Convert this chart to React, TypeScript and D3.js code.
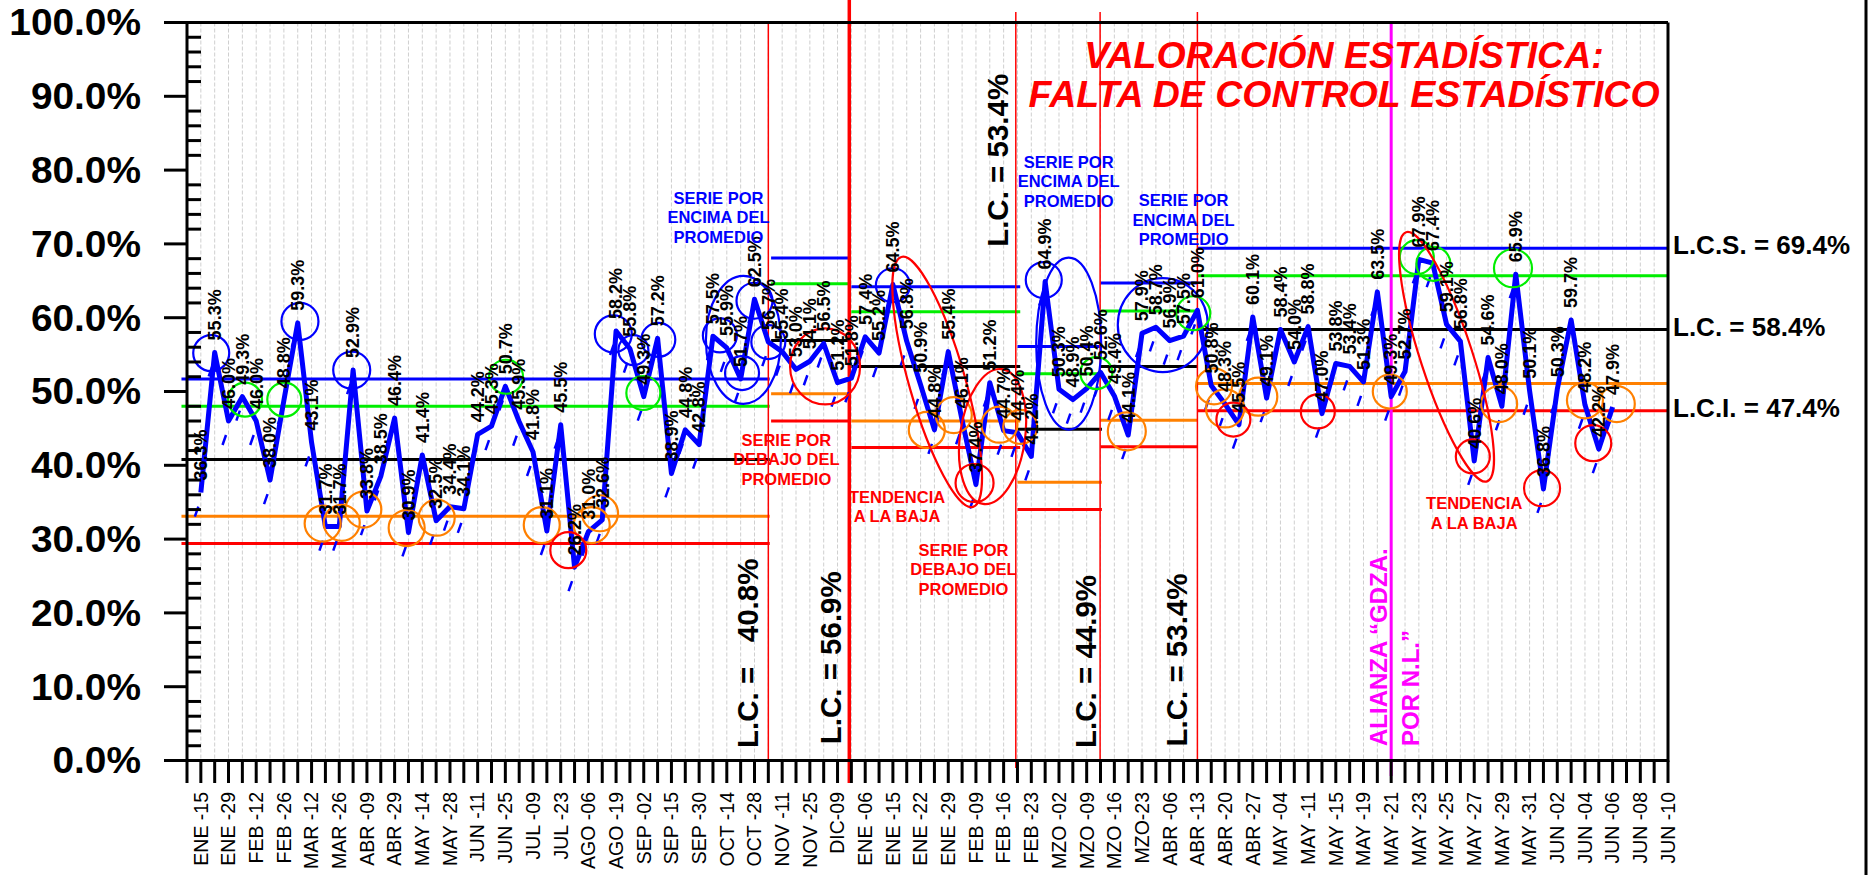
import React from "react";
import * as d3 from "d3";

const FONT = "'Liberation Sans', Arial, Helvetica, sans-serif";

const tickLabels = [
  "ENE -15", "ENE -29", "FEB -12", "FEB -26", "MAR -12", "MAR -26", "ABR -09", "ABR -29",
  "MAY -14", "MAY -28", "JUN -11", "JUN -25", "JUL -09", "JUL -23", "AGO -06", "AGO -19",
  "SEP -02", "SEP -15", "SEP -30", "OCT -14", "OCT -28", "NOV -11", "NOV -25", "DIC-09",
  "ENE -06", "ENE -15", "ENE -22", "ENE -29", "FEB -09", "FEB -16", "FEB -23", "MZO -02",
  "MZO -09", "MZO -16", "MZO-23", "ABR -06", "ABR -13", "ABR -20", "ABR -27", "MAY -04",
  "MAY -11", "MAY -15", "MAY -19", "MAY -21", "MAY -23", "MAY -25", "MAY -27", "MAY -29",
  "MAY -31", "JUN -02", "JUN -04", "JUN -06", "JUN -08", "JUN -10",
];

const values = [
  36.3, 55.3, 46.0, 49.3, 46.0, 38.0, 48.8, 59.3, 43.1, 31.7,
  31.7, 52.9, 33.8, 38.5, 46.4, 30.9, 41.4, 32.5, 34.4, 34.1,
  44.2, 45.3, 50.7, 45.9, 41.8, 31.1, 45.5, 26.2, 31.0, 32.6,
  58.2, 55.8, 49.3, 57.2, 38.9, 44.8, 42.8, 57.5, 55.9, 51.7,
  62.5, 56.7, 55.4, 53.0, 54.1, 56.5, 51.2, 51.8, 57.4, 55.2,
  64.5, 56.8, 50.9, 44.8, 55.4, 46.1, 37.4, 51.2, 44.7, 44.4,
  41.2, 64.9, 50.3, 48.9, 50.4, 52.6, 49.4, 44.1, 57.9, 58.7,
  56.9, 57.5, 61.0, 50.8, 48.3, 45.5, 60.1, 49.1, 58.4, 54.0,
  58.8, 47.0, 53.8, 53.4, 51.3, 63.5, 49.3, 52.7, 67.9, 67.4,
  59.1, 56.8, 40.6, 54.6, 48.0, 65.9, 50.1, 36.8, 50.3, 59.7,
  48.2, 42.2, 47.9,
];

// control-limit segments (category index ranges)
const segStart = [-1.4, 41.2, 47.0, 59.0, 65.0, 72.0];
const segEnd = [41.1, 46.8, 59.2, 65.1, 72.0, 106];
const lcsVals = [51.7, 68.1, 64.2, 56.1, 64.7, 69.4];
const upperVals = [48.0, 64.6, 60.8, 52.4, 60.9, 65.7];
const lcVals = [40.8, 56.9, 53.4, 44.9, 53.4, 58.4];
const lowerVals = [33.1, 49.7, 46.0, 37.7, 46.1, 51.1];
const lciVals = [29.4, 46.0, 42.4, 34.0, 42.5, 47.4];

const redDividers = [41, 46.85, 58.88, 64.97, 72.0];
const redDividerThick = [false, true, false, false, false];
const allianceIdx = 86;

// annotation rings: [index, value, rx, ry, rotation]
const blueRings = [
  [0.75, 55.2, 18, 18, 0], [7.16, 59.5, 18.5, 18.5, 0], [10.9, 52.9, 18.5, 18.5, 0],
  [29.8, 57.8, 18.5, 18.5, 0], [31.25, 55.6, 15, 15, 0], [33.05, 57.0, 17, 17, 0],
  [39.2, 57.0, 37.5, 64, 0], [37.5, 57.6, 17, 17, 0], [39.1, 52.5, 17, 17, 0],
  [40.0, 62.3, 18, 18, 0], [41.0, 56.7, 17, 17, 0], [50.0, 64.4, 17, 17, 0],
  [60.9, 65.1, 18, 18, 0], [62.7, 56.5, 32.5, 86, 0], [69.5, 59.0, 45, 47, 0],
];
const greenRings = [
  [3.19, 48.9, 17, 17, 0], [6.03, 48.9, 17, 17, 0], [22.05, 52.0, 17, 17, 0],
  [31.97, 49.8, 17, 17, 0], [64.7, 52.5, 16, 16, 0], [71.7, 60.6, 17, 17, 0],
  [87.85, 68.2, 17, 17, 0], [89.05, 67.3, 17, 17, 0], [94.8, 66.7, 19, 19, 0],
];
const orangeRings = [
  [8.8, 32.1, 18, 18, 0], [10.18, 32.2, 18, 18, 0], [11.74, 34.0, 18, 18, 0],
  [14.87, 31.5, 18, 18, 0], [17.04, 32.9, 18, 18, 0], [24.63, 31.9, 18, 18, 0],
  [28.24, 31.9, 18, 18, 0], [28.84, 33.5, 18, 18, 0], [52.45, 44.8, 18, 18, 0],
  [54.4, 46.8, 18, 18, 0], [57.7, 45.5, 18, 18, 0], [59.2, 45.2, 17, 17, 0],
  [66.9, 44.6, 19, 19, 0], [73.2, 50.7, 18, 18, 0], [74.0, 47.7, 19, 19, 0],
  [76.4, 49.3, 19, 19, 0], [85.9, 50.0, 17, 17, 0], [93.8, 48.3, 18, 18, 0],
  [100.0, 48.8, 18, 18, 0], [102.3, 48.3, 18, 18, 0],
];
const redRings = [
  [26.55, 28.5, 18, 18, 0], [45.1, 53.4, 35, 38, 0], [53.2, 51.3, 130, 28, 74],
  [55.9, 37.6, 19, 19, 0], [57.2, 43.9, 32.5, 68, 8], [74.6, 46.2, 17, 17, 0],
  [80.7, 47.3, 17, 17, 0], [90.0, 54.7, 131, 26, 72], [91.9, 41.2, 17, 17, 0],
  [96.9, 36.9, 18, 18, 0], [100.6, 43.0, 18, 18, 0],
];

// text annotations: [index, value of first line, color, lines]
const notes: [number, number, string, string[]][] = [
  [37.4, 76.2, "#0000FF", ["SERIE POR", "ENCIMA DEL", "PROMEDIO"]],
  [42.3, 43.4, "#FF0000", ["SERIE POR", "DEBAJO DEL", "PROMEDIO"]],
  [50.3, 35.7, "#FF0000", ["TENDENCIA", "A LA BAJA"]],
  [55.1, 28.5, "#FF0000", ["SERIE POR", "DEBAJO DEL", "PROMEDIO"]],
  [62.7, 81.1, "#0000FF", ["SERIE POR", "ENCIMA DEL", "PROMEDIO"]],
  [71.0, 75.9, "#0000FF", ["SERIE POR", "ENCIMA DEL", "PROMEDIO"]],
  [92.0, 34.8, "#FF0000", ["TENDENCIA", "A LA BAJA"]],
];

// vertical L.C. labels: [index, value at text start, text]
const lcNotes: [number, number, string][] = [
  [39.5, 1.7, "L.C. =   40.8%"],
  [45.5, 2.2, "L.C. = 56.9%"],
  [57.55, 69.6, "L.C. = 53.4%"],
  [63.96, 1.7, "L.C. = 44.9%"],
  [70.5, 1.9, "L.C. = 53.4%"],
];

const rightLabels: [number, string][] = [
  [69.4, "L.C.S. = 69.4%"],
  [58.4, "L.C. = 58.4%"],
  [47.4, "L.C.I. = 47.4%"],
];

export default function App() {
  const x = d3.scaleLinear().domain([-1, 106]).range([187, 1668]);
  const y = d3.scaleLinear().domain([0, 100]).range([760.5, 22.5]);
  const line = d3
    .line<number>()
    .x((_, i) => x(i))
    .y((d) => y(d));
  const gridIdx = d3.range(0, 106);
  const xTickIdx = d3.range(-1, 107);
  const yMajor = d3.range(0, 101, 10);
  const yMinor = d3.range(2, 100, 2).filter((v) => v % 10 !== 0);
  const left = x(-1);
  const right = x(106);
  const top = y(100);
  const bottom = y(0);

  const rings = (list: number[][], color: string, key: string) =>
    list.map((r, k) => (
      <ellipse
        key={key + k}
        cx={0}
        cy={0}
        rx={r[2]}
        ry={r[3]}
        transform={`translate(${x(r[0])},${y(r[1])}) rotate(${r[4]})`}
        fill="none"
        stroke={color}
        strokeWidth={2.2}
      />
    ));

  const segLine = (vals: number[], color: string, key: string) =>
    vals.map((v, k) => (
      <line
        key={key + k}
        x1={x(segStart[k])}
        x2={x(segEnd[k])}
        y1={y(v)}
        y2={y(v)}
        stroke={color}
        strokeWidth={3}
      />
    ));

  return (
    <svg
      width={1871}
      height={875}
      style={{ position: "absolute", left: 0, top: 0, display: "block", background: "#fff" }}
      fontFamily={FONT}
    >
      <rect x={0} y={0} width={1871} height={875} fill="#fff" />
      {/* grid */}
      {gridIdx.map((i) => (
        <line
          key={"g" + i}
          x1={x(i)}
          x2={x(i)}
          y1={top}
          y2={bottom}
          stroke="#cfcfcf"
          strokeWidth={1}
          strokeDasharray="4 2"
        />
      ))}
      {/* control limits */}
      {segLine(lcsVals, "#0000FF", "lcs")}
      {segLine(upperVals, "#00EE00", "up")}
      {segLine(lcVals, "#000000", "lc")}
      {segLine(lowerVals, "#FF8000", "lo")}
      {segLine(lciVals, "#FF0000", "lci")}
      {/* dividers */}
      {redDividers.map((d, k) => (
        <line
          key={"rd" + k}
          x1={x(d)}
          x2={x(d)}
          y1={redDividerThick[k] ? 0 : k === 0 ? top : 12}
          y2={redDividerThick[k] ? 783 : k === 0 ? bottom : 768}
          stroke="#FF0000"
          strokeWidth={redDividerThick[k] ? 3.5 : 1.5}
        />
      ))}
      <line x1={x(allianceIdx)} x2={x(allianceIdx)} y1={top} y2={776} stroke="#FF00FF" strokeWidth={3} />
      {/* shadow dashes */}
      {values.map((v, i) => (
        <line
          key={"sd" + i}
          x1={x(i) - 6}
          y1={y(v) + 24}
          x2={x(i) - 2.5}
          y2={y(v) + 14}
          stroke="#0000FF"
          strokeWidth={2.5}
        />
      ))}
      {/* data line */}
      <path d={line(values) || ""} fill="none" stroke="#0000FF" strokeWidth={5} strokeLinejoin="round" />
      {/* rings */}
      {rings(blueRings, "#0000FF", "b")}
      {rings(greenRings, "#00EE00", "gr")}
      {rings(orangeRings, "#FF8000", "o")}
      {rings(redRings, "#FF0000", "r")}
      {/* data labels */}
      {values.map((v, i) => (
        <text
          key={"dl" + i}
          transform={`translate(${x(i)},${y(v) - 12}) rotate(-90)`}
          dy="0.35em"
          fontSize={18}
          fontWeight="bold"
          fill="#000"
        >
          {v.toFixed(1) + "%"}
        </text>
      ))}
      {/* notes */}
      {notes.map((n, k) =>
        n[3].map((t, j) => (
          <text
            key={"n" + k + "_" + j}
            x={x(n[0])}
            y={y(n[1]) + j * 19.5}
            dy="0.35em"
            textAnchor="middle"
            fontSize={16.5}
            fontWeight="bold"
            fill={n[2]}
          >
            {t}
          </text>
        ))
      )}
      {lcNotes.map((n, k) => (
        <text
          key={"lc" + k}
          transform={`translate(${x(n[0])},${y(n[1])}) rotate(-90)`}
          dy="0.35em"
          fontSize={29.5}
          fontWeight="bold"
          fill="#000"
          style={{ whiteSpace: "pre" }}
        >
          {n[2]}
        </text>
      ))}
      {/* alliance label */}
      <text
        transform={`translate(${x(allianceIdx) - 13},746) rotate(-90)`}
        dy="0.35em"
        fontSize={24}
        fontWeight="bold"
        fill="#FF00FF"
      >
        {"ALIANZA \u201CGDZA."}
      </text>
      <text
        transform={`translate(${x(allianceIdx) + 19},746) rotate(-90)`}
        dy="0.35em"
        fontSize={24}
        fontWeight="bold"
        fill="#FF00FF"
      >
        {"POR N.L.\u201D"}
      </text>
      {/* title */}
      <text x={1344} y={68} textAnchor="middle" fontSize={37.5} fontWeight="bold" fontStyle="italic" fill="#FF0000">
        VALORACIÓN ESTADÍSTICA:
      </text>
      <text x={1344} y={107} textAnchor="middle" fontSize={37.5} fontWeight="bold" fontStyle="italic" fill="#FF0000">
        FALTA DE CONTROL ESTADÍSTICO
      </text>
      {/* frame */}
      <line x1={164} x2={right} y1={top} y2={top} stroke="#000" strokeWidth={3} />
      <line x1={164} x2={right} y1={bottom} y2={bottom} stroke="#000" strokeWidth={3} />
      <line x1={left} x2={left} y1={top} y2={bottom} stroke="#000" strokeWidth={3} />
      <line x1={right} x2={right} y1={top} y2={bottom + 1.5} stroke="#000" strokeWidth={3} />
      {/* y ticks */}
      {yMajor.map((v) => (
        <line key={"ym" + v} x1={164} x2={left} y1={y(v)} y2={y(v)} stroke="#000" strokeWidth={3} />
      ))}
      {yMinor.map((v) => (
        <line key={"yn" + v} x1={left} x2={left + 14} y1={y(v)} y2={y(v)} stroke="#000" strokeWidth={3} />
      ))}
      {yMajor.map((v) => (
        <text
          key={"yl" + v}
          transform={`translate(141,${y(v)}) scale(1.05,1)`}
          dy="0.35em"
          textAnchor="end"
          fontSize={37}
          fontWeight="bold"
          fill="#000"
        >
          {v.toFixed(1) + "%"}
        </text>
      ))}
      {/* x ticks */}
      {xTickIdx.map((i) => (
        <line key={"xt" + i} x1={x(i)} x2={x(i)} y1={bottom} y2={783} stroke="#000" strokeWidth={3} />
      ))}
      {tickLabels.map((t, k) => (
        <text
          key={"xl" + k}
          transform={`translate(${x(k * 2)},792) rotate(-90)`}
          dy="0.35em"
          textAnchor="end"
          fontSize={19.5}
          fill="#000"
        >
          {t}
        </text>
      ))}
      {/* right labels */}
      {rightLabels.map((r, k) => (
        <text
          key={"rl" + k}
          x={1673}
          y={y(r[0]) - 3}
          dy="0.35em"
          fontSize={26}
          fontWeight="bold"
          fill="#000"
        >
          {r[1]}
        </text>
      ))}
      <line x1={1866} x2={1866} y1={0} y2={875} stroke="#000" strokeWidth={3} />
    </svg>
  );
}
